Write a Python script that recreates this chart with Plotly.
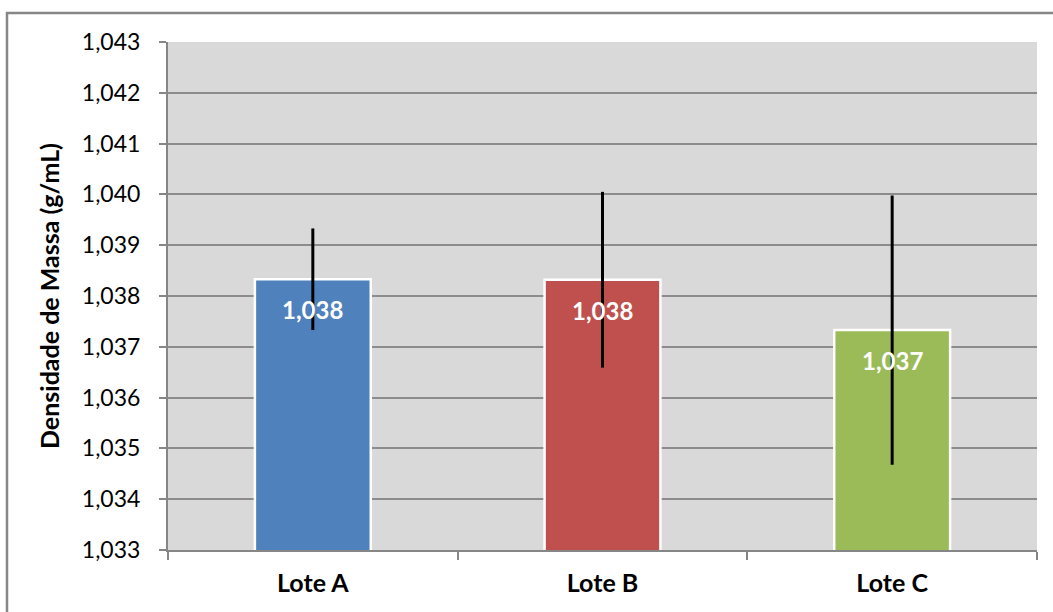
import plotly.graph_objects as go

categories = ["Lote A", "Lote B", "Lote C"]
values = [1.03833, 1.03832, 1.03733]
errors = [0.00100, 0.00173, 0.00265]
colors = ["#4F81BD", "#C0504D", "#9BBB59"]
y_ticks = [1.033, 1.034, 1.035, 1.036, 1.037, 1.038, 1.039, 1.040, 1.041, 1.042, 1.043]

FONT = "Lato, 'Open Sans', sans-serif"
W, H = 1053, 612
L, R, T, B = 168, 16, 42, 62

fig = go.Figure()
fig.add_trace(go.Bar(
    x=categories,
    y=values,
    marker=dict(color=colors, line=dict(color="white", width=2.5)),
    width=0.4,
    error_y=dict(type="data", array=errors, visible=True, color="black", thickness=3, width=0),
    cliponaxis=True,
))

for c, v in zip(categories, values):
    fig.add_annotation(x=c, y=v, xref="x", yref="y", yanchor="top", yshift=-14,
                       text=f"{v:.3f}".replace(".", ","), showarrow=False,
                       font=dict(family=FONT, size=24, color="white", weight="bold"))

pw = W - L - R
ph = H - T - B
fig.add_shape(type="rect", xref="paper", yref="paper",
              x0=(7 - L) / pw, x1=1.1, y0=-0.3, y1=1 + (T - 13) / ph,
              line=dict(color="#868686", width=2.5), fillcolor="rgba(0,0,0,0)", layer="above")

fig.update_layout(
    width=W, height=H,
    margin=dict(l=L, r=R, t=T, b=B),
    paper_bgcolor="white",
    plot_bgcolor="#D9D9D9",
    separators=",.",
    showlegend=False,
    font=dict(family=FONT, color="black"),
    xaxis=dict(
        type="category",
        tickson="boundaries",
        ticks="outside", ticklen=8, tickcolor="#868686", tickwidth=2,
        showline=True, linecolor="#868686", linewidth=2,
        showgrid=False,
        ticklabelstandoff=10,
        tickfont=dict(family=FONT, size=25, color="black", weight="bold"),
    ),
    yaxis=dict(
        range=[1.033, 1.043],
        tickvals=y_ticks,
        tickformat=".3f",
        ticks="outside", ticklen=7, tickcolor="#868686", tickwidth=2,
        showline=True, linecolor="#868686", linewidth=2,
        showgrid=True, gridcolor="#8C8C8C", gridwidth=2,
        zeroline=False,
        ticklabelstandoff=14,
        tickfont=dict(family=FONT, size=23, color="black"),
        title=dict(text="Densidade de Massa (g/mL)", standoff=15,
                   font=dict(family=FONT, size=25, color="black", weight="bold")),
    ),
    bargap=0.6,
)

fig.write_html("out.html", config={"displayModeBar": False},
               post_script="document.body.style.margin='0px';document.body.style.overflow='hidden';")
